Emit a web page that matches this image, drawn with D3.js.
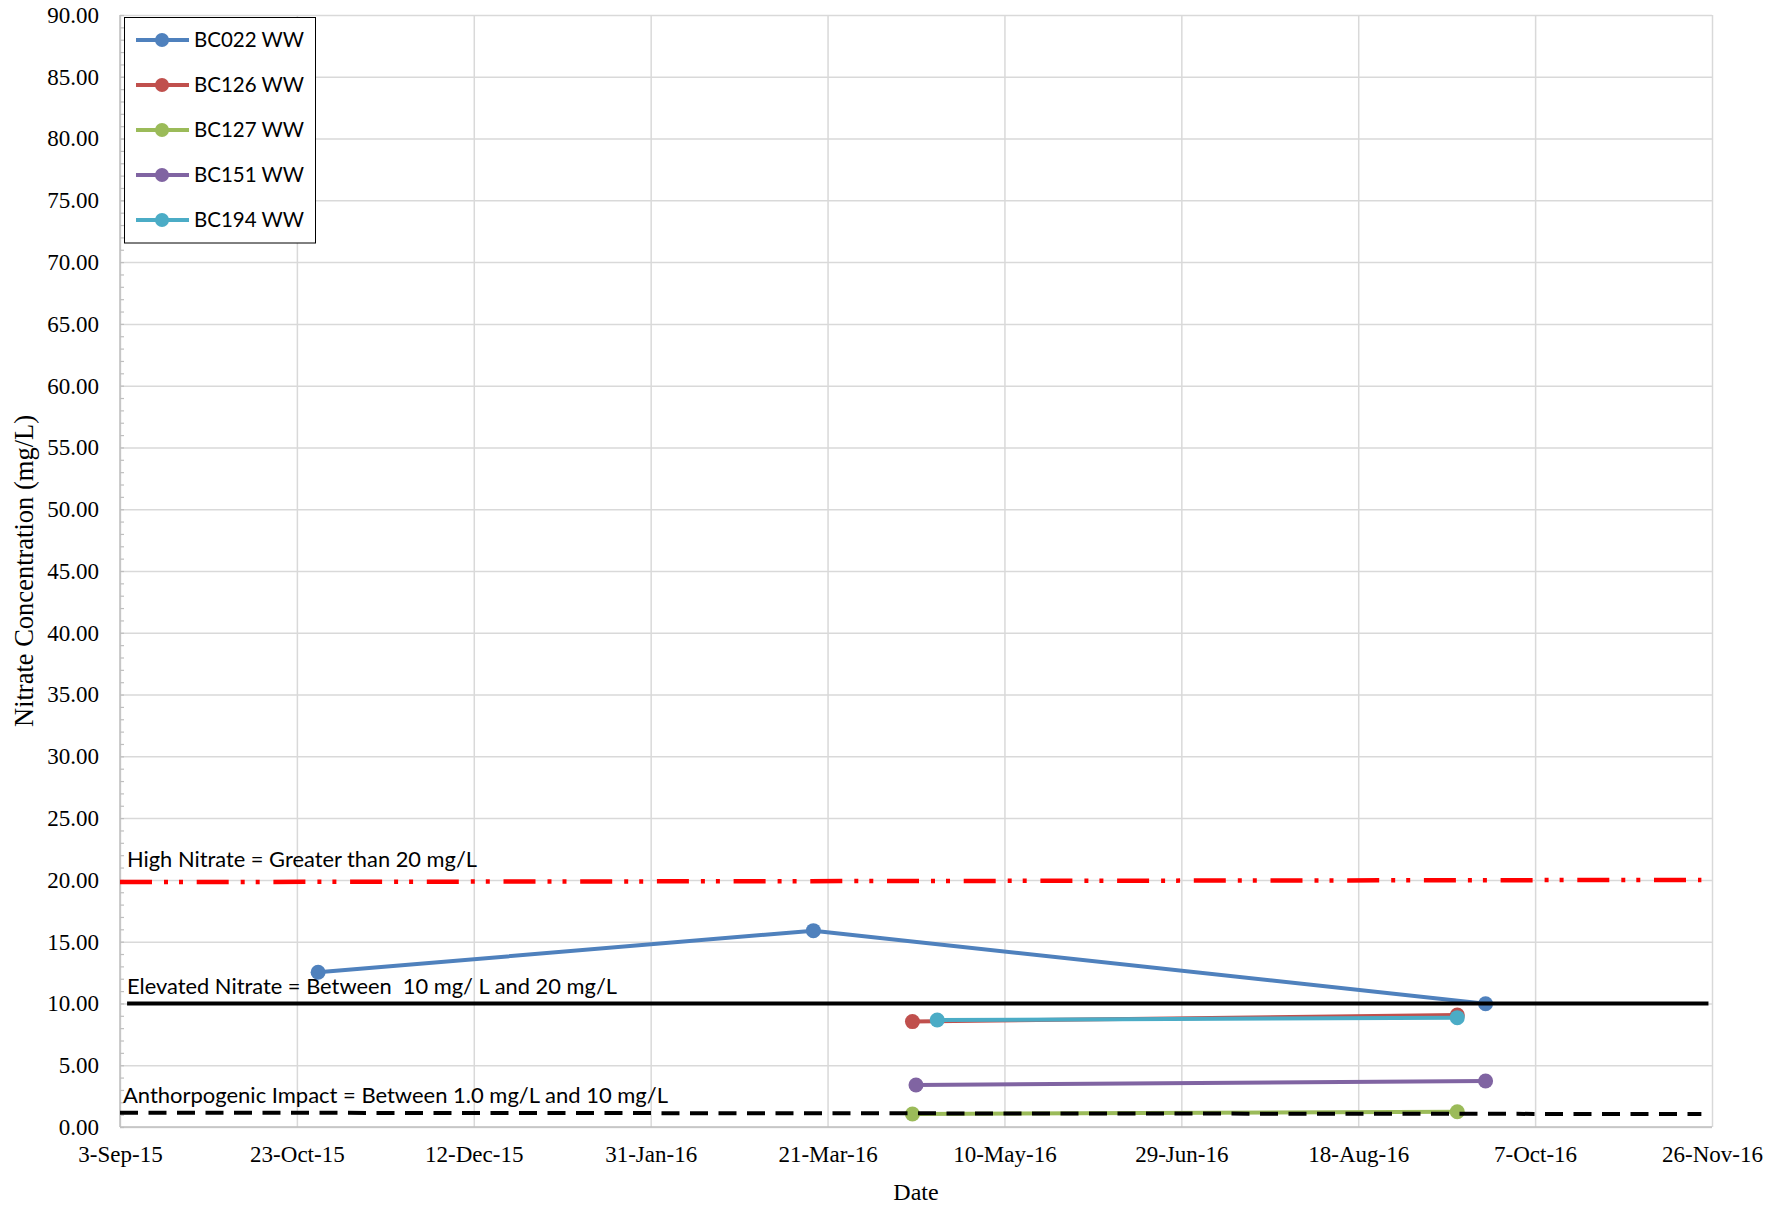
<!DOCTYPE html>
<html>
<head>
<meta charset="utf-8">
<script src="https://cdn.jsdelivr.net/npm/d3@7"></script>
<style>
  html, body { margin: 0; padding: 0; background: #fff; }
  svg { display: block; }
  .serif { font-family: 'Liberation Serif', 'Times New Roman', serif; }
</style>
</head>
<body>
<svg id="chart" width="1789" height="1207"></svg>
<script>
// ---------- DATA ----------
const seriesNames = ["BC022 WW", "BC126 WW", "BC127 WW", "BC151 WW", "BC194 WW"];

const bc022Dates  = ["2015-10-29", "2016-03-17", "2016-09-23"];
const bc022Values = [12.52, 15.89, 9.98];

const bc126Dates  = ["2016-04-14", "2016-09-15"];
const bc126Values = [8.53, 9.06];

const bc127Dates  = ["2016-04-14", "2016-09-15"];
const bc127Values = [1.05, 1.24];

const bc151Dates  = ["2016-04-15", "2016-09-23"];
const bc151Values = [3.40, 3.72];

const bc194Dates  = ["2016-04-21", "2016-09-15"];
const bc194Values = [8.66, 8.85];

// threshold reference lines
const highDates      = ["2015-09-03", "2016-11-23"];
const highValues     = [19.82, 20.0];
const elevatedDates  = ["2015-09-05", "2016-11-25"];
const elevatedValues = [10.0, 10.0];
const anthroDates    = ["2015-09-03", "2016-11-23"];
const anthroValues   = [1.16, 1.05];

const highLabel     = "High Nitrate = Greater than 20 mg/L";
const elevatedLabel = "Elevated Nitrate = Between  10 mg/ L and 20 mg/L";
const anthroLabel   = "Anthorpogenic Impact = Between 1.0 mg/L and 10 mg/L";

const xTickDates  = ["2015-09-03", "2015-10-23", "2015-12-12", "2016-01-31", "2016-03-21",
                     "2016-05-10", "2016-06-29", "2016-08-18", "2016-10-07", "2016-11-26"];
const xTickLabels = ["3-Sep-15", "23-Oct-15", "12-Dec-15", "31-Jan-16", "21-Mar-16",
                     "10-May-16", "29-Jun-16", "18-Aug-16", "7-Oct-16", "26-Nov-16"];
const yTicks = [0, 5, 10, 15, 20, 25, 30, 35, 40, 45, 50, 55, 60, 65, 70, 75, 80, 85, 90];
const yMinorTicks = d3.range(0, 91, 1);

const xTitle = "Date";
const yTitle = "Nitrate Concentration (mg/L)";

// ---------- STYLE ----------
const seriesColors = ["#4F81BD", "#C0504D", "#9BBB59", "#8064A2", "#4BACC6"];
const serifFont = "'Liberation Serif', 'Times New Roman', serif";

// ---------- BUILD ----------
const parse = d3.utcParse("%Y-%m-%d");
const zip = (ds, vs) => ds.map((d, i) => ({ date: parse(d), value: vs[i] }));
const series = [
  zip(bc022Dates, bc022Values),
  zip(bc126Dates, bc126Values),
  zip(bc127Dates, bc127Values),
  zip(bc151Dates, bc151Values),
  zip(bc194Dates, bc194Values)
];

const L = 120, R = 1712, T = 15, B = 1127;
const svg = d3.select("#chart");
svg.append("rect").attr("width", 1789).attr("height", 1207).attr("fill", "#fff");

const x = d3.scaleUtc()
  .domain([parse(xTickDates[0]), parse(xTickDates[xTickDates.length - 1])])
  .range([L, R]);
const y = d3.scaleLinear().domain([0, 90]).range([B, T]);

// gridlines
const gx = svg.append("g").attr("transform", `translate(0,${B})`)
  .call(d3.axisBottom(x).tickValues(xTickDates.map(parse)).tickSize(-(B - T)).tickFormat(""));
gx.select(".domain").remove();
gx.selectAll("line").attr("stroke", "#d9d9d9").attr("stroke-width", 1.5);

const gy = svg.append("g").attr("transform", `translate(${L},0)`)
  .call(d3.axisLeft(y).tickValues(yTicks).tickSize(-(R - L)).tickFormat(""));
gy.select(".domain").remove();
gy.selectAll("line").attr("stroke", "#d9d9d9").attr("stroke-width", 1.5);

// minor ticks on y axis (inside)
const gm = svg.append("g").attr("transform", `translate(${L},0)`)
  .call(d3.axisLeft(y).tickValues(yMinorTicks).tickSize(-4).tickFormat(""));
gm.select(".domain").remove();
gm.selectAll("line").attr("stroke", "#bfbfbf").attr("stroke-width", 1.2);

// axis lines
svg.append("line").attr("x1", L).attr("x2", L).attr("y1", T).attr("y2", B)
  .attr("stroke", "#bfbfbf").attr("stroke-width", 1.5);
svg.append("line").attr("x1", L).attr("x2", R).attr("y1", B).attr("y2", B)
  .attr("stroke", "#bfbfbf").attr("stroke-width", 1.5);

// tick labels
const ay = svg.append("g").attr("transform", `translate(${L},0)`)
  .call(d3.axisLeft(y).tickValues(yTicks).tickSize(0).tickPadding(21).tickFormat(d3.format(".2f")));
ay.select(".domain").remove();
ay.attr("font-family", null).attr("font-size", null);
ay.selectAll("text").style("font-family", serifFont).style("font-size", "23px").attr("fill", "#000");

const ax = svg.append("g").attr("transform", `translate(0,${B})`)
  .call(d3.axisBottom(x).tickValues(xTickDates.map(parse)).tickSize(0).tickPadding(19)
    .tickFormat((d, i) => xTickLabels[i]));
ax.select(".domain").remove();
ax.attr("font-family", null).attr("font-size", null);
ax.selectAll("text").style("font-family", serifFont).style("font-size", "23px").attr("fill", "#000");

// axis titles
svg.append("text").attr("x", (L + R) / 2).attr("y", 1200).attr("text-anchor", "middle")
  .style("font-family", serifFont).style("font-size", "24px")
  .text(xTitle);
svg.append("text").attr("transform", `translate(33,${(T + B) / 2}) rotate(-90)`)
  .attr("text-anchor", "middle")
  .style("font-family", serifFont).style("font-size", "26.5px")
  .text(yTitle);

// series
const line = d3.line().x(d => x(d.date)).y(d => y(d.value));
const gs = svg.append("g");
series.forEach((s, i) => {
  gs.append("path").datum(s).attr("d", line).attr("fill", "none")
    .attr("stroke", seriesColors[i]).attr("stroke-width", 4).attr("stroke-linejoin", "round");
  gs.selectAll(null).data(s).enter().append("circle")
    .attr("cx", d => x(d.date)).attr("cy", d => y(d.value)).attr("r", 7.5)
    .attr("fill", seriesColors[i]);
});

// threshold lines
const tl = d3.line().x(d => x(d.date)).y(d => y(d.value));
svg.append("path").datum(zip(highDates, highValues)).attr("d", tl).attr("fill", "none")
  .attr("stroke", "#FF0000").attr("stroke-width", 4.5).attr("stroke-dasharray", "32,12,4,11,4,13.7");
svg.append("path").datum(zip(elevatedDates, elevatedValues)).attr("d", tl).attr("fill", "none")
  .attr("stroke", "#000").attr("stroke-width", 4);
svg.append("path").datum(zip(anthroDates, anthroValues)).attr("d", tl).attr("fill", "none")
  .attr("stroke", "#000").attr("stroke-width", 4).attr("stroke-dasharray", "18,10.5");

// annotations
const annFont = "Lato, 'Open Sans', sans-serif";
svg.append("text").attr("x", 127).attr("y", y(20) - 13).attr("font-family", annFont)
  .attr("font-size", 20.5).attr("textLength", 350).attr("lengthAdjust", "spacingAndGlyphs")
  .text(highLabel);
svg.append("text").attr("x", 127).attr("y", y(10) - 9).attr("font-family", annFont)
  .attr("font-size", 20.5).attr("textLength", 490).attr("lengthAdjust", "spacingAndGlyphs")
  .attr("xml:space", "preserve").style("white-space", "pre")
  .text(elevatedLabel);
svg.append("text").attr("x", 123).attr("y", y(1.1) - 10).attr("font-family", annFont)
  .attr("font-size", 20.5).attr("textLength", 545).attr("lengthAdjust", "spacingAndGlyphs")
  .text(anthroLabel);

// legend
const lg = svg.append("g");
lg.append("rect").attr("x", 124.5).attr("y", 17.5).attr("width", 191).attr("height", 225.5)
  .attr("fill", "#fff").attr("stroke", "#000").attr("stroke-width", 1);
seriesNames.forEach((name, i) => {
  const cy = 40 + i * 45;
  lg.append("line").attr("x1", 136).attr("x2", 189).attr("y1", cy).attr("y2", cy)
    .attr("stroke", seriesColors[i]).attr("stroke-width", 4);
  lg.append("circle").attr("cx", 162).attr("cy", cy).attr("r", 7).attr("fill", seriesColors[i]);
  lg.append("text").attr("x", 194).attr("y", cy + 7).attr("font-family", annFont)
    .attr("font-size", 20.5).attr("textLength", 110).attr("lengthAdjust", "spacingAndGlyphs")
    .text(name);
});
</script>
</body>
</html>
